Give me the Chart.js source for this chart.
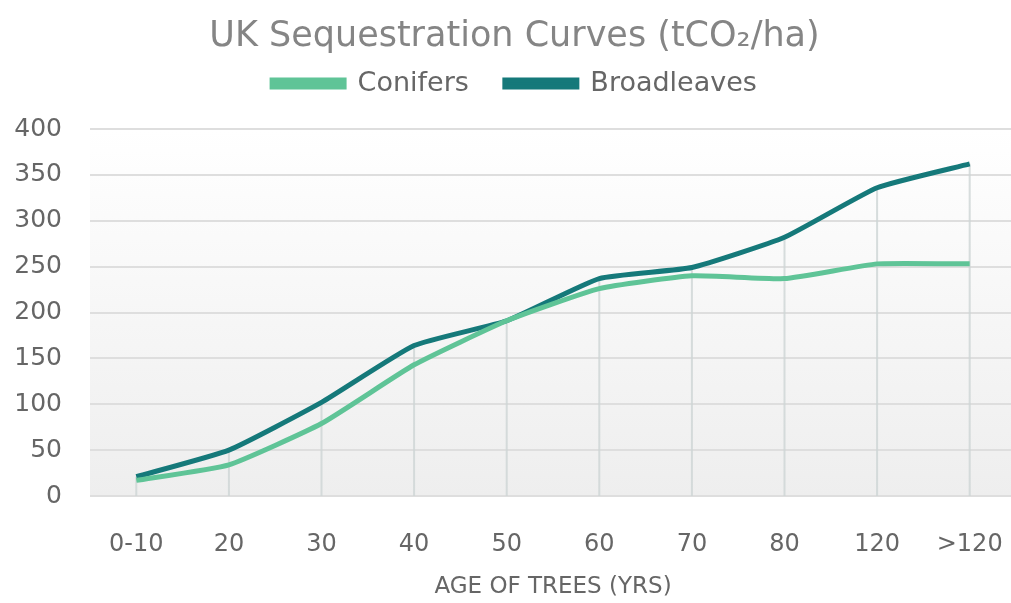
<!DOCTYPE html>
<html>
<head>
<meta charset="utf-8">
<script src="https://cdn.jsdelivr.net/npm/chart.js@4.4.1/dist/chart.umd.min.js"></script>
<style>
  body { margin: 0; background: #fff; overflow: hidden; }
  #wrap { width: 1016px; height: 603px; }
</style>
</head>
<body>
<div id="wrap"><canvas id="myChart"></canvas></div>
<script>
const ages = ['0-10', '20', '30', '40', '50', '60', '70', '80', '120', '>120'];
const conifers = [17, 34, 79, 143, 191, 226, 240, 237, 253, 253];
const broadleaves = [21, 50, 102, 164, 191, 237, 249, 282, 336, 362];
const yTicks = [0, 50, 100, 150, 200, 250, 300, 350, 400];

const grey = '#666';
const fontFam = '"DejaVu Sans", sans-serif';

// light background gradient inside the plot + drop lines under the highest curve
const areaDeco = {
  id: 'areaDeco',
  beforeInit(chart) {
    // more room under the legend
    const fit = chart.legend.fit;
    chart.legend.fit = function () {
      fit.bind(chart.legend)();
      this.height += 22;
    };
  },
  beforeDatasetsDraw(chart) {
    const { ctx, chartArea: a, scales } = chart;
    ctx.save();
    ctx.strokeStyle = 'rgba(205,212,212,0.8)';
    ctx.lineWidth = 2;
    ages.forEach((lab, i) => {
      const x = scales.x.getPixelForValue(i);
      const top = scales.y.getPixelForValue(Math.max(conifers[i], broadleaves[i]));
      ctx.beginPath();
      ctx.moveTo(x, top);
      ctx.lineTo(x, a.bottom);
      ctx.stroke();
    });
    ctx.restore();
  },
  beforeDraw(chart) {
    const { ctx, chartArea: a } = chart;
    const g = ctx.createLinearGradient(0, a.top, 0, a.bottom);
    g.addColorStop(0, '#ffffff');
    g.addColorStop(1, '#eeeeee');
    ctx.save();
    ctx.fillStyle = g;
    ctx.fillRect(a.left, a.top, a.right - a.left, a.bottom - a.top);
    ctx.restore();
  }
};

const ctx = document.getElementById('myChart').getContext('2d');
new Chart(ctx, {
  type: 'line',
  data: {
    labels: ages,
    datasets: [{
      label: 'Conifers',
      data: conifers,
      borderColor: '#5fc497',
      backgroundColor: '#5fc497',
      borderWidth: 5,
      pointRadius: 0,
      tension: 0.15
    }, {
      label: 'Broadleaves',
      data: broadleaves,
      borderColor: '#15797a',
      backgroundColor: '#15797a',
      borderWidth: 5,
      pointRadius: 0,
      tension: 0.15
    }]
  },
  options: {
    responsive: true,
    maintainAspectRatio: false,
    animation: false,
    layout: { padding: { left: 13, right: 0, top: 4, bottom: 0 } },
    plugins: {
      title: {
        display: true,
        text: 'UK Sequestration Curves (tCO₂/ha)',
        color: '#858585',
        font: { family: fontFam, size: 35, weight: 'normal' },
        padding: { top: 12, bottom: -24 }
      },
      legend: {
        labels: {
          color: grey,
          boxWidth: 72,
          boxHeight: 7,
          padding: 36,
          font: { family: fontFam, size: 27, weight: 'normal' }
        }
      },
      tooltip: { enabled: false }
    },
    scales: {
      x: {
        offset: true,
        grid: { display: false },
        border: { display: false },
        afterFit(axis) {
          axis.height = 107;
          axis.paddingLeft = 0;
          axis.paddingRight = 0;
        },
        ticks: {
          color: grey,
          padding: 26,
          font: { family: fontFam, size: 24, weight: 'normal' }
        },
        title: {
          display: true,
          text: 'AGE OF TREES (YRS)',
          color: grey,
          font: { family: fontFam, size: 23, weight: 'normal' },
          padding: { top: 0, bottom: 2 }
        }
      },
      y: {
        min: 0,
        max: 400,
        afterBuildTicks(axis) { axis.ticks = yTicks.map(v => ({ value: v })); },
        afterFit(axis) { axis.width = 77; },
        grid: { color: '#dedede', lineWidth: 2, drawTicks: false },
        border: { display: false },
        ticks: {
          color: grey,
          padding: 28,
          font: { family: fontFam, size: 25, weight: 'normal' }
        }
      }
    }
  },
  plugins: [areaDeco]
});
</script>
</body>
</html>
